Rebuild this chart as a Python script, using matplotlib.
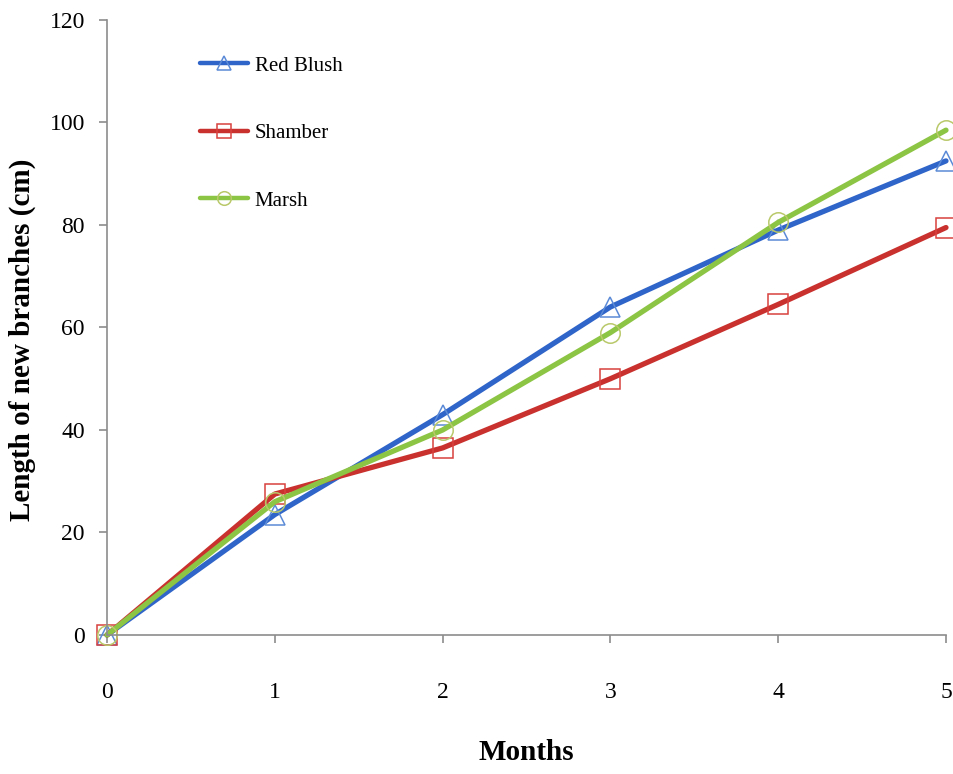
import matplotlib.pyplot as plt

months = [0, 1, 2, 3, 4, 5]
red_blush = [0, 23.5, 43, 64, 79, 92.5]
shamber = [0, 27.5, 36.5, 50, 64.5, 79.5]
marsh = [0, 26, 40, 59, 80.5, 98.5]

series = [
    ("Red Blush", red_blush, "#2F64C8", "#5B8AD6", "^"),
    ("Shamber", shamber, "#C8312E", "#D9413F", "s"),
    ("Marsh", marsh, "#8CC444", "#B9C96A", "o"),
]

plt.rcParams["font.family"] = ["Liberation Serif", "DejaVu Serif"]

fig = plt.figure(figsize=(9.54, 7.74), dpi=100)
ax = fig.add_axes([0.1122, 0.1796, 0.8794, 0.7946])

for name, vals, line_col, mark_col, mk in series:
    ax.plot(months, vals, color=line_col, lw=3.8, marker=mk, ms=14,
            mfc="none", mec=mark_col, mew=1.1, label=name, clip_on=False,
            solid_capstyle="round")

ax.set_xlim(0, 5)
ax.set_ylim(0, 120)
ax.set_xticks(months)
ax.set_yticks(range(0, 121, 20))

for side in ["top", "right"]:
    ax.spines[side].set_visible(False)
for side in ["left", "bottom"]:
    ax.spines[side].set_color("#8C8C8C")
    ax.spines[side].set_linewidth(1.2)

ax.tick_params(direction="out", length=6, width=1.2, color="#8C8C8C",
               labelsize=17, pad=10)
ax.tick_params(axis="x", pad=28)

ax.set_xlabel("Months", fontsize=21, fontweight="bold", labelpad=26)
fig.text(22 / 954, 1 - 340 / 774, "Length of new branches (cm)",
         rotation=90, ha="center", va="center", fontsize=21,
         fontweight="bold")

leg = ax.legend(loc="upper left", bbox_to_anchor=(0.089, 0.972),
                frameon=False, fontsize=15, markerscale=0.7,
                labelspacing=2.3, handlelength=2.3, handletextpad=0.3)
for line in leg.get_lines():
    line.set_linewidth(3.2)

fig.savefig("out.png", dpi=100)
